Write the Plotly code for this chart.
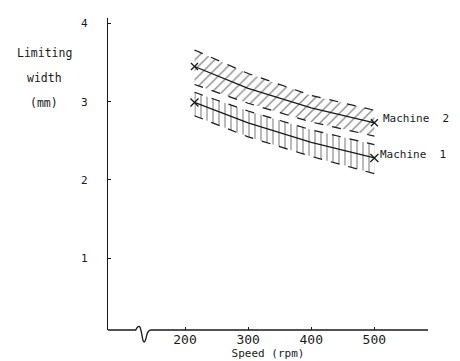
import plotly.graph_objects as go

# Speed (rpm) sample points
speed = [215, 300, 400, 500]

# Machine 2 band (mm)
m2_upper = [3.66, 3.36, 3.08, 2.89]
m2_center = [3.45, 3.17, 2.92, 2.73]
m2_lower = [3.22, 2.98, 2.74, 2.56]

# Machine 1 band (mm)
m1_upper = [3.12, 2.88, 2.64, 2.45]
m1_center = [2.99, 2.73, 2.48, 2.28]
m1_lower = [2.82, 2.55, 2.30, 2.08]

x_ticks = [200, 300, 400, 500]
y_ticks = [1, 2, 3, 4]

ink = "#1a1a1a"
mono = "DejaVu Sans Mono"

fig = go.Figure()

# Machine 2 band
fig.add_trace(go.Scatter(x=speed, y=m2_lower, mode="lines",
                         line=dict(color=ink, width=1.2, dash="dash"),
                         showlegend=False, hoverinfo="skip"))
fig.add_trace(go.Scatter(x=speed, y=m2_upper, mode="lines",
                         line=dict(color=ink, width=1.2, dash="dash"),
                         fill="tonexty", fillcolor="rgba(0,0,0,0)",
                         fillpattern=dict(shape="/", fgcolor=ink, bgcolor="rgba(0,0,0,0)",
                                          size=7, solidity=0.2),
                         showlegend=False, hoverinfo="skip"))
fig.add_trace(go.Scatter(x=speed, y=m2_center, mode="lines",
                         line=dict(color=ink, width=1.3),
                         showlegend=False, name="Machine 2"))
fig.add_trace(go.Scatter(x=[speed[0], speed[-1]], y=[m2_center[0], m2_center[-1]], mode="markers",
                         marker=dict(symbol="x-thin-open", size=7, color=ink,
                                     line=dict(color=ink, width=1.3)),
                         showlegend=False))

# Machine 1 band
fig.add_trace(go.Scatter(x=speed, y=m1_lower, mode="lines",
                         line=dict(color=ink, width=1.2, dash="dash"),
                         showlegend=False, hoverinfo="skip"))
fig.add_trace(go.Scatter(x=speed, y=m1_upper, mode="lines",
                         line=dict(color=ink, width=1.2, dash="dash"),
                         fill="tonexty", fillcolor="rgba(0,0,0,0)",
                         fillpattern=dict(shape="|", fgcolor=ink, bgcolor="rgba(0,0,0,0)",
                                          size=6, solidity=0.2),
                         showlegend=False, hoverinfo="skip"))
fig.add_trace(go.Scatter(x=speed, y=m1_center, mode="lines",
                         line=dict(color=ink, width=1.3),
                         showlegend=False, name="Machine 1"))
fig.add_trace(go.Scatter(x=[speed[0], speed[-1]], y=[m1_center[0], m1_center[-1]], mode="markers",
                         marker=dict(symbol="x-thin-open", size=8, color=ink,
                                     line=dict(color=ink, width=1.3)),
                         showlegend=False))

# series labels
fig.add_annotation(x=speed[-1], y=m2_center[-1], text="Machine  2", showarrow=False,
                   xanchor="left", yanchor="middle", xshift=7, yshift=4,
                   font=dict(family=mono, size=11, color=ink))
fig.add_annotation(x=speed[-1], y=m1_center[-1], text="Machine  1", showarrow=False,
                   xanchor="left", yanchor="middle", xshift=4, yshift=3,
                   font=dict(family=mono, size=11, color=ink))

# y-axis title as stacked text
for txt, yy in [("Limiting", 0.888), ("width", 0.808), ("(mm)", 0.728)]:
    fig.add_annotation(xref="paper", yref="paper", x=-0.2, y=yy, text=txt, showarrow=False,
                       xanchor="center", yanchor="middle",
                       font=dict(family=mono, size=11.5, color=ink))

# x axis with break
fig.add_shape(type="path", xref="x", yref="paper",
              path="M78,0 L122,0 Q126,0.018 129,0.008 Q131,-0.005 133,-0.03 Q136,-0.05 139,-0.02 Q141,0 146,0 L585,0",
              line=dict(color=ink, width=1.3))

fig.update_xaxes(range=[78, 585], tickvals=x_ticks, ticktext=[str(v) for v in x_ticks],
                 ticks="inside", ticklen=3, tickcolor=ink, showline=False, showgrid=False,
                 zeroline=False, automargin=False, tickfont=dict(family=mono, size=13, color=ink),
                 title=dict(text="Speed (rpm)", font=dict(family=mono, size=11, color=ink), standoff=0))
fig.update_yaxes(range=[0.08, 4.07], tickvals=y_ticks, ticks="inside", ticklen=3, tickcolor=ink,
                 showline=True, linecolor=ink, linewidth=1.2, showgrid=False, zeroline=False,
                 automargin=False, ticklabelstandoff=17, tickfont=dict(family=mono, size=11, color=ink))

fig.update_layout(width=460, height=361, margin=dict(l=100, r=40, t=10, b=39),
                  plot_bgcolor="white", paper_bgcolor="white", showlegend=False)

fig.write_html("out.html")
